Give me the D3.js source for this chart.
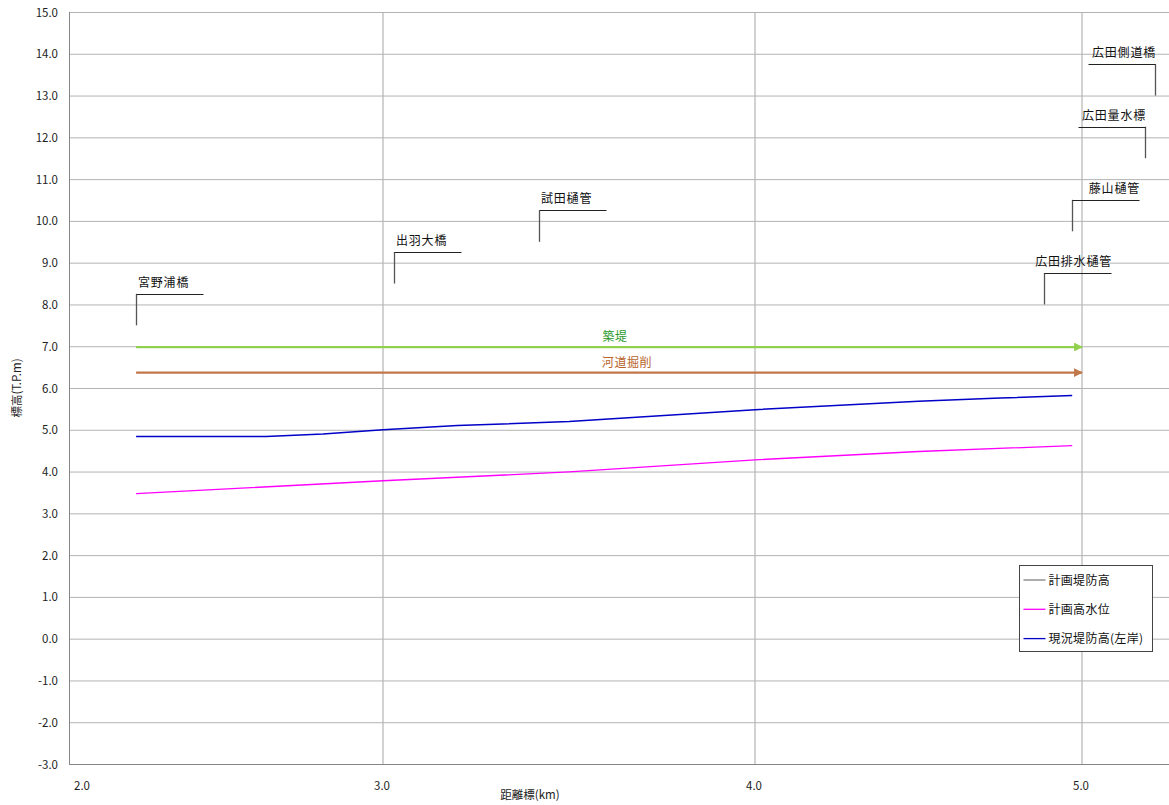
<!DOCTYPE html>
<html><head><meta charset="utf-8">
<script src="https://cdn.jsdelivr.net/npm/d3@7"></script>
<style>
body{margin:0;background:#fff;}
text{font-family:"Noto Sans CJK JP","Noto Sans",sans-serif;}
</style></head>
<body><svg id="c" width="1169" height="805"></svg>
<script>
// ---- data ----
const xTicks = [2.0, 3.0, 4.0, 5.0];
const yTicks = d3.range(-3, 15.01, 1);
const currentKm  = [2.177, 2.61, 2.8, 3.0, 3.2, 3.5, 4.0, 4.5, 4.75, 4.97];
const currentVal = [4.84, 4.84, 4.9, 5.0, 5.1, 5.2, 5.48, 5.68, 5.76, 5.82];
const hwlKm  = [2.177, 3.0, 3.5, 4.0, 4.5, 4.97];
const hwlVal = [3.47, 3.78, 3.99, 4.28, 4.48, 4.62];
const planLevee = []; // 計画堤防高 (legend only)
const arrowNames = ["築堤", "河道掘削"];
const arrowStart = [2.177, 2.177];
const arrowEnd   = [5.0, 5.0];
const arrowLevel = [6.98, 6.37];
const landmarkNames = ["宮野浦橋", "出羽大橋", "試田樋管", "広田排水樋管", "藤山樋管", "広田量水標", "広田側道橋"];
const landmarkKm    = [2.177, 3.03, 3.42, 4.884, 4.97, 5.193, 5.222];
const landmarkBase  = [7.5, 8.5, 9.5, 8.0, 9.75, 11.5, 13.0];
const landmarkSide  = ["L", "L", "L", "L", "L", "R", "R"];
const legendNames = ["計画堤防高", "計画高水位", "現況堤防高(左岸)"];

(function draw(){
// ---- layout ----
const svg = d3.select("#c");
const pL = 69, pR = 1169, pT = 12, pB = 764;
const x = d3.scaleLinear().domain([2.0, 3.0, 4.0, 5.0]).range([83, 383, 755, 1082]);
const y = d3.scaleLinear().domain([-3, 15]).range([pB, pT]);
const gridC = "#b4b4b4", axisC = "#868686";
const landmarkAlign = ["start", "start", "start", "end", "end", "end", "end"];

svg.append("g").selectAll("line").data(yTicks).join("line")
  .attr("x1", pL).attr("x2", pR)
  .attr("y1", d => y(d) + 0.5).attr("y2", d => y(d) + 0.5)
  .attr("stroke", gridC).attr("stroke-width", 1);
svg.append("g").selectAll("line").data(xTicks.slice(1)).join("line")
  .attr("x1", d => x(d)).attr("x2", d => x(d))
  .attr("y1", pT).attr("y2", pB)
  .attr("stroke", gridC).attr("stroke-width", 1.2);
svg.append("line").attr("x1", pL + 0.5).attr("x2", pL + 0.5).attr("y1", pT).attr("y2", pB + 0.5)
  .attr("stroke", axisC);
svg.append("line").attr("x1", pL).attr("x2", pR).attr("y1", pB + 0.5).attr("y2", pB + 0.5)
  .attr("stroke", axisC);

svg.append("g").selectAll("text").data(yTicks).join("text")
  .attr("x", 58).attr("y", d => y(d) + 4.5)
  .attr("text-anchor", "end").attr("font-size", 11.5).attr("fill", "#222")
  .text(d => d.toFixed(1));
svg.append("g").selectAll("text").data(xTicks).join("text")
  .attr("x", d => x(d) - 1).attr("y", 790)
  .attr("text-anchor", "middle").attr("font-size", 11.5).attr("fill", "#222")
  .text(d => d.toFixed(1));
svg.append("text").attr("x", 530).attr("y", 799).attr("text-anchor", "middle")
  .attr("font-size", 11.5).attr("fill", "#222").text("距離標(km)");
svg.append("text").attr("transform", "translate(21,388) rotate(-90)").attr("text-anchor", "middle")
  .attr("font-size", 11.5).attr("fill", "#222").text("標高(T.P.m)");

const defs = svg.append("defs");
const arrowColors = ["#92d050", "#c0784a"];
const textColors = ["#2e9a2e", "#b8632a"];
arrowColors.forEach((c, i) => {
  defs.append("marker").attr("id", "ah" + i).attr("viewBox", "0 0 10 10")
    .attr("refX", 9).attr("refY", 5).attr("markerWidth", 4).attr("markerHeight", 4)
    .attr("orient", "auto").attr("markerUnits", "strokeWidth")
    .append("path").attr("d", "M0,0L10,5L0,10Z").attr("fill", c);
});
const ln = d3.line().x(d => x(d[0])).y(d => y(d[1]));
arrowNames.forEach((n, i) => {
  svg.append("path").attr("d", ln([[arrowStart[i], arrowLevel[i]], [arrowEnd[i], arrowLevel[i]]]))
    .attr("stroke", arrowColors[i]).attr("stroke-width", 2.2).attr("fill", "none")
    .attr("marker-end", `url(#ah${i})`);
  svg.append("text").attr("x", i === 0 ? 615 : 627).attr("y", y(arrowLevel[i]) - 6)
    .attr("text-anchor", "middle").attr("font-size", 12).attr("letter-spacing", 0.6)
    .attr("fill", textColors[i]).text(n);
});

svg.append("path").attr("d", ln(hwlKm.map((k, i) => [k, hwlVal[i]])))
  .attr("stroke", "#ff00ff").attr("stroke-width", 1.3).attr("fill", "none");
svg.append("path").attr("d", ln(currentKm.map((k, i) => [k, currentVal[i]])))
  .attr("stroke", "#0000c8").attr("stroke-width", 1.5).attr("fill", "none");
if (planLevee.length) svg.append("path").attr("d", ln(planLevee)).attr("stroke", "#808080").attr("fill", "none");

const vLen = 31.5, hLen = 67;
landmarkNames.forEach((n, i) => {
  const px = Math.round(x(landmarkKm[i])) + 0.5;
  const pb = y(landmarkBase[i]);
  const pt = pb - vLen;
  const hx2 = landmarkSide[i] === "L" ? px + hLen : px - hLen;
  const g = svg.append("g");
  g.append("line").attr("x1", px).attr("x2", px).attr("y1", pb).attr("y2", pt)
    .attr("stroke", "#555").attr("stroke-width", 1.3);
  g.append("line").attr("x1", px).attr("x2", hx2).attr("y1", Math.round(pt) + 0.5).attr("y2", Math.round(pt) + 0.5)
    .attr("stroke", "#222").attr("stroke-width", 1);
  const lo = Math.min(px, hx2), hi = Math.max(px, hx2);
  const start = landmarkAlign[i] === "start";
  g.append("text").attr("x", start ? lo + 1.5 : hi + 0.5).attr("y", pt - 7)
    .attr("text-anchor", start ? "start" : "end")
    .attr("font-size", 12).attr("letter-spacing", 0.8).attr("fill", "#111").text(n);
});

const lg = svg.append("g").attr("transform", "translate(1019.5,565.5)");
lg.append("rect").attr("width", 133).attr("height", 86).attr("fill", "#fff")
  .attr("stroke", "#444").attr("stroke-width", 1);
const legColors = ["#808080", "#ff00ff", "#0000c8"];
legendNames.forEach((n, i) => {
  const yy = 14.5 + i * 29.3;
  lg.append("line").attr("x1", 4).attr("x2", 26).attr("y1", yy).attr("y2", yy)
    .attr("stroke", legColors[i]).attr("stroke-width", 1.3);
  lg.append("text").attr("x", 29).attr("y", yy + 4.5).attr("font-size", 12).attr("letter-spacing", 0.3)
    .attr("fill", "#111").text(n);
});
})();
</script></body></html>
